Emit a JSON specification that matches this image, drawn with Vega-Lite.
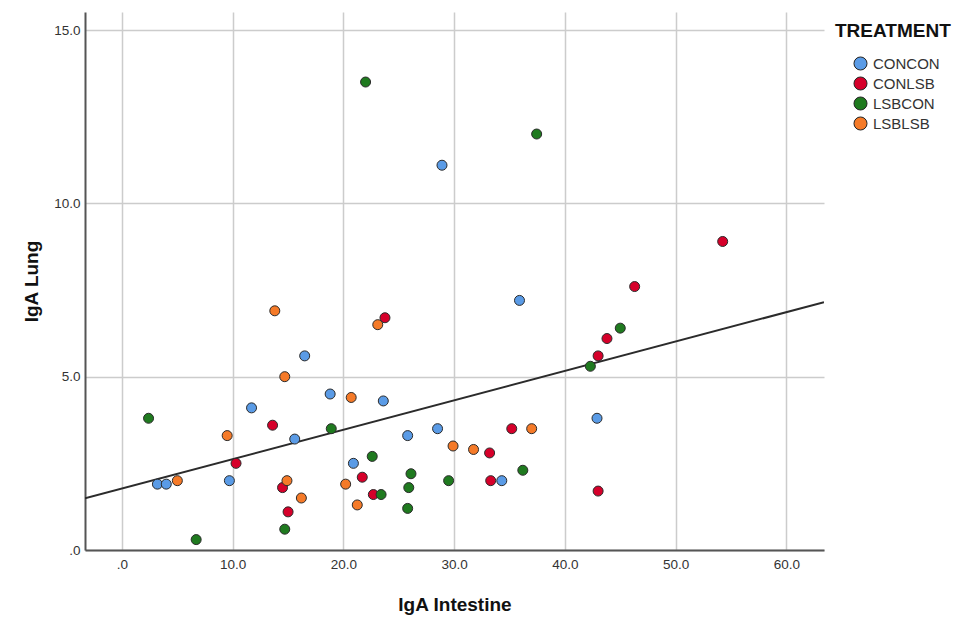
{
  "$schema": "https://vega.github.io/schema/vega-lite/v6.json",
  "autosize": "none",
  "width": 739,
  "height": 538,
  "padding": {"left": 85, "top": 12, "right": 144, "bottom": 69},
  "background": "white",
  "config": {
    "font": "Liberation Sans",
    "view": {"stroke": null},
    "axis": {
      "grid": true,
      "gridColor": "#cccccc",
      "gridWidth": 1.5,
      "domainColor": "#555555",
      "domainWidth": 2,
      "ticks": false,
      "labelFont": "Liberation Sans",
      "labelFontSize": 13.5,
      "labelColor": "#333333",
      "titleFont": "Liberation Sans",
      "titleFontSize": 19,
      "titleFontWeight": "bold",
      "titleColor": "#111111"
    }
  },
  "datasets": {
    "points": [
      {"treatment": "CONCON", "intestine": 3.2, "lung": 1.9},
      {"treatment": "CONCON", "intestine": 4.0, "lung": 1.9},
      {"treatment": "CONCON", "intestine": 9.7, "lung": 2.0},
      {"treatment": "CONCON", "intestine": 11.7, "lung": 4.1},
      {"treatment": "CONCON", "intestine": 15.6, "lung": 3.2},
      {"treatment": "CONCON", "intestine": 16.5, "lung": 5.6},
      {"treatment": "CONCON", "intestine": 18.8, "lung": 4.5},
      {"treatment": "CONCON", "intestine": 20.9, "lung": 2.5},
      {"treatment": "CONCON", "intestine": 23.6, "lung": 4.3},
      {"treatment": "CONCON", "intestine": 25.8, "lung": 3.3},
      {"treatment": "CONCON", "intestine": 28.5, "lung": 3.5},
      {"treatment": "CONCON", "intestine": 28.9, "lung": 11.1},
      {"treatment": "CONCON", "intestine": 34.3, "lung": 2.0},
      {"treatment": "CONCON", "intestine": 35.9, "lung": 7.2},
      {"treatment": "CONCON", "intestine": 42.9, "lung": 3.8},
      {"treatment": "CONLSB", "intestine": 10.3, "lung": 2.5},
      {"treatment": "CONLSB", "intestine": 13.6, "lung": 3.6},
      {"treatment": "CONLSB", "intestine": 14.5, "lung": 1.8},
      {"treatment": "CONLSB", "intestine": 15.0, "lung": 1.1},
      {"treatment": "CONLSB", "intestine": 21.7, "lung": 2.1},
      {"treatment": "CONLSB", "intestine": 22.7, "lung": 1.6},
      {"treatment": "CONLSB", "intestine": 23.75, "lung": 6.7},
      {"treatment": "CONLSB", "intestine": 33.2, "lung": 2.8},
      {"treatment": "CONLSB", "intestine": 33.3, "lung": 2.0},
      {"treatment": "CONLSB", "intestine": 35.2, "lung": 3.5},
      {"treatment": "CONLSB", "intestine": 43.0, "lung": 5.6},
      {"treatment": "CONLSB", "intestine": 43.0, "lung": 1.7},
      {"treatment": "CONLSB", "intestine": 43.8, "lung": 6.1},
      {"treatment": "CONLSB", "intestine": 46.3, "lung": 7.6},
      {"treatment": "CONLSB", "intestine": 54.25, "lung": 8.9},
      {"treatment": "LSBCON", "intestine": 2.4, "lung": 3.8},
      {"treatment": "LSBCON", "intestine": 6.7, "lung": 0.3},
      {"treatment": "LSBCON", "intestine": 14.7, "lung": 0.6},
      {"treatment": "LSBCON", "intestine": 18.9, "lung": 3.5},
      {"treatment": "LSBCON", "intestine": 22.0, "lung": 13.5},
      {"treatment": "LSBCON", "intestine": 22.6, "lung": 2.7},
      {"treatment": "LSBCON", "intestine": 23.4, "lung": 1.6},
      {"treatment": "LSBCON", "intestine": 25.9, "lung": 1.8},
      {"treatment": "LSBCON", "intestine": 25.8, "lung": 1.2},
      {"treatment": "LSBCON", "intestine": 26.1, "lung": 2.2},
      {"treatment": "LSBCON", "intestine": 29.5, "lung": 2.0},
      {"treatment": "LSBCON", "intestine": 36.2, "lung": 2.3},
      {"treatment": "LSBCON", "intestine": 37.45, "lung": 12.0},
      {"treatment": "LSBCON", "intestine": 42.3, "lung": 5.3},
      {"treatment": "LSBCON", "intestine": 45.0, "lung": 6.4},
      {"treatment": "LSBLSB", "intestine": 5.0, "lung": 2.0},
      {"treatment": "LSBLSB", "intestine": 9.5, "lung": 3.3},
      {"treatment": "LSBLSB", "intestine": 13.8, "lung": 6.9},
      {"treatment": "LSBLSB", "intestine": 14.7, "lung": 5.0},
      {"treatment": "LSBLSB", "intestine": 14.9, "lung": 2.0},
      {"treatment": "LSBLSB", "intestine": 16.2, "lung": 1.5},
      {"treatment": "LSBLSB", "intestine": 20.2, "lung": 1.9},
      {"treatment": "LSBLSB", "intestine": 20.7, "lung": 4.4},
      {"treatment": "LSBLSB", "intestine": 21.25, "lung": 1.3},
      {"treatment": "LSBLSB", "intestine": 23.1, "lung": 6.5},
      {"treatment": "LSBLSB", "intestine": 29.9, "lung": 3.0},
      {"treatment": "LSBLSB", "intestine": 31.75, "lung": 2.9},
      {"treatment": "LSBLSB", "intestine": 37.0, "lung": 3.5}
    ],
    "fit": [
      {"intestine": -3.34, "lung": 1.49},
      {"intestine": 63.4, "lung": 7.15}
    ]
  },
  "layer": [
    {
      "data": {"name": "fit"},
      "mark": {"type": "line", "color": "#2b2b2b", "strokeWidth": 2, "clip": true},
      "encoding": {
        "x": {"field": "intestine", "type": "quantitative"},
        "y": {"field": "lung", "type": "quantitative"}
      }
    },
    {
      "data": {"name": "points"},
      "mark": {"type": "point", "filled": true, "shape": "circle", "size": 100, "stroke": "#2b2b2b", "strokeWidth": 1, "opacity": 1},
      "encoding": {
        "x": {
          "field": "intestine", "type": "quantitative",
          "scale": {"domain": [-3.34, 63.4], "nice": false, "zero": false},
          "axis": {
            "title": "IgA Intestine",
            "values": [0, 10, 20, 30, 40, 50, 60],
            "labelExpr": "datum.value == 0 ? '.0' : format(datum.value, '.1f')",
            "labelPadding": 7,
            "titlePadding": 25
          }
        },
        "y": {
          "field": "lung", "type": "quantitative",
          "scale": {"domain": [0, 15.52], "nice": false},
          "axis": {
            "title": "IgA Lung",
            "values": [0, 5, 10, 15],
            "labelExpr": "datum.value == 0 ? '.0' : format(datum.value, '.1f')",
            "labelPadding": 5,
            "titlePadding": 12
          }
        },
        "fill": {
          "field": "treatment", "type": "nominal",
          "scale": {
            "domain": ["CONCON", "CONLSB", "LSBCON", "LSBLSB"],
            "range": ["#5a9be6", "#d6002a", "#1f7a1f", "#f57a28"]
          },
          "legend": {
            "title": "TREATMENT",
            "orient": "none",
            "legendX": 750,
            "legendY": 10,
            "titleFont": "Liberation Sans",
            "titleFontSize": 19,
            "titleFontWeight": "bold",
            "titleColor": "#111111",
            "titlePadding": 15,
            "labelFont": "Liberation Sans",
            "labelFontSize": 15,
            "labelColor": "#333333",
            "labelOffset": 5,
            "symbolType": "circle",
            "symbolSize": 170,
            "symbolStrokeColor": "#222222",
            "symbolStrokeWidth": 1,
            "symbolOffset": 18,
            "rowPadding": 1,
            "padding": 0
          }
        }
      }
    }
  ]
}
